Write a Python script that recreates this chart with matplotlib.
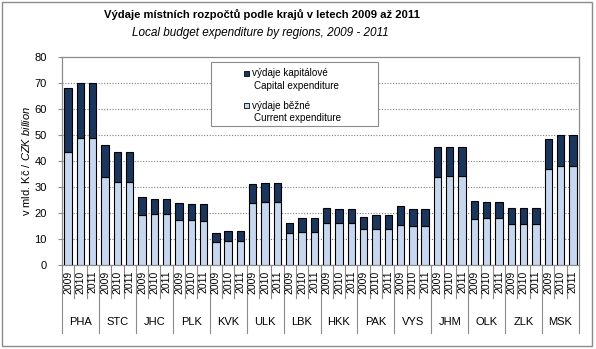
import matplotlib
matplotlib.use("Agg")
import matplotlib.pyplot as plt
import numpy as np
from matplotlib.patches import Rectangle
from matplotlib.lines import Line2D
import matplotlib.transforms as mtransforms

plt.rcParams['font.family'] = ['Liberation Sans', 'DejaVu Sans']
plt.rcParams['mathtext.fontset'] = 'custom'
plt.rcParams['mathtext.rm'] = 'Liberation Sans'
plt.rcParams['mathtext.it'] = 'Liberation Sans:italic'

regions = ["PHA", "STC", "JHC", "PLK", "KVK", "ULK", "LBK", "HKK", "PAK",
           "VYS", "JHM", "OLK", "ZLK", "MSK"]
years = ["2009", "2010", "2011"]

# current expenditure (bn CZK), per region x year
current = [43.3, 49.0, 49.0,
           33.8, 32.1, 32.1,
           19.2, 19.7, 19.7,
           17.3, 17.2, 17.1,
           8.7, 9.1, 9.1,
           23.7, 24.1, 24.1,
           12.4, 12.8, 12.8,
           16.0, 16.0, 16.0,
           13.7, 13.7, 13.7,
           15.2, 15.1, 15.1,
           33.9, 34.4, 34.4,
           17.7, 18.2, 18.2,
           15.6, 15.6, 15.6,
           37.1, 38.1, 38.1]
# total expenditure (bn CZK)
total = [68.2, 70.1, 70.1,
         46.0, 43.3, 43.3,
         26.1, 25.2, 25.2,
         23.7, 23.3, 23.3,
         12.3, 13.1, 13.1,
         31.0, 31.7, 31.7,
         16.0, 17.9, 17.9,
         21.8, 21.4, 21.4,
         18.3, 19.2, 19.2,
         22.7, 21.4, 21.4,
         45.2, 45.2, 45.2,
         24.8, 24.1, 24.1,
         21.8, 21.8, 21.8,
         48.3, 49.9, 49.9]
capital = [t - c for t, c in zip(total, current)]

legend_lines = [("výdaje kapitálové", "Capital expenditure"),
                ("výdaje běžné", "Current expenditure")]

dark = "#1B365D"
light = "#C6D7EF"
grey = "#8C8C8C"

W, H = 596, 349
fig = plt.figure(figsize=(W/100, H/100), dpi=100)
ax = fig.add_axes([62/W, 1 - 265/H, (579-62)/W, (265-57)/H])

n = len(current)
x = np.arange(n)
ax.bar(x, current, width=0.6, color=light, edgecolor="black", linewidth=0.8, zorder=3)
ax.bar(x, capital, bottom=current, width=0.6, color=dark, edgecolor="black", linewidth=0.8, zorder=3)

ax.set_xlim(-0.5, n - 0.5)
ax.set_ylim(0, 80)
ax.set_yticks(range(0, 81, 10))
ax.tick_params(axis='y', labelsize=8, length=3, color=grey, pad=8)
ax.set_xticks([])
for v in range(10, 80, 10):
    ax.axhline(v, color="#7F7F7F", linestyle=(0, (1, 1.5)), linewidth=0.8, zorder=1)
for s in ax.spines.values():
    s.set_color(grey)
    s.set_linewidth(0.9)

# multilevel category axis
trans = mtransforms.blended_transform_factory(ax.transData, ax.transAxes)
y_short = -(298 - 265) / 208
y_long = -(333 - 265) / 208
for k in range(n + 1):
    xb = k - 0.5
    yl = y_long if k % 3 == 0 else y_short
    ax.add_line(Line2D([xb, xb], [0, yl], transform=trans, color=grey, linewidth=0.8, clip_on=False))
for i in range(n):
    ax.text(i, -(282 - 265) / 208, years[i % 3], transform=trans, rotation=90,
            ha="center", va="center", fontsize=7.5)
for j, r in enumerate(regions):
    ax.text(3 * j + 1, -(322 - 265) / 208, r, transform=trans, ha="center", va="center", fontsize=8)

ax.set_ylabel(r"v mld. Kč / $\it{CZK\ billion}$", fontsize=8)
ax.yaxis.set_label_coords(-0.058, 0.5)

# legend drawn manually in figure pixel coordinates
def fx(px):
    return px / W

def fy(py):
    return 1 - py / H

fig.patches.append(Rectangle((fx(211), fy(126)), (378-211)/W, (126-62)/H, transform=fig.transFigure,
                             facecolor="white", edgecolor=grey, linewidth=0.8, zorder=5))
for (l1, l2), col, y1, y2 in zip(legend_lines, [dark, light], [73, 106], [86, 118]):
    fig.patches.append(Rectangle((fx(243.5), fy(y1 + 2.5)), 5/W, 5/H, transform=fig.transFigure,
                                 facecolor=col, edgecolor="black", linewidth=0.6, zorder=6))
    fig.text(fx(251.5), fy(y1), l1, ha="left", va="center", fontsize=7.1, zorder=7)
    fig.text(fx(253.5), fy(y2), l2, ha="left", va="center", fontsize=7.1, zorder=7)

fig.text(0.439, fy(15), "Výdaje místních rozpočtů podle krajů v letech 2009 až 2011",
         ha="center", va="center", fontsize=8.1, fontweight="bold")
fig.text(0.437, fy(33), "Local budget expenditure by regions, 2009 - 2011",
         ha="center", va="center", fontsize=8.5, style="italic")

fig.patches.append(Rectangle((2/W, 3/H), 590/W, 344/H, transform=fig.transFigure,
                             fill=False, edgecolor=grey, linewidth=1.0))

fig.savefig("out.png", dpi=100)
